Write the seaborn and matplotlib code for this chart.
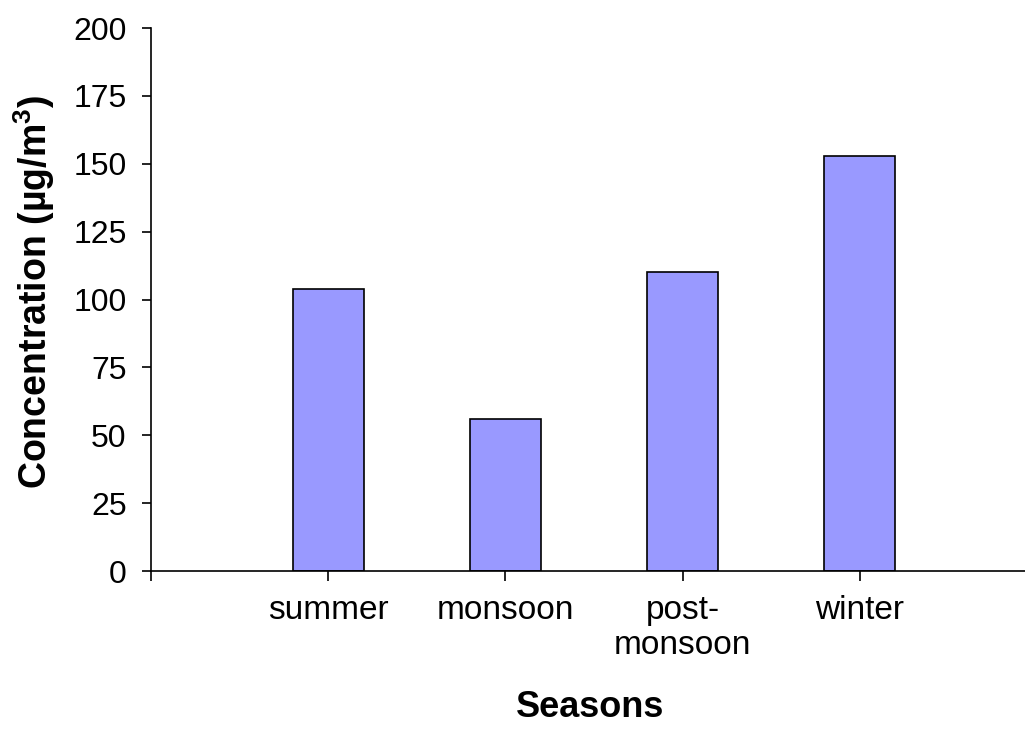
# Seasonal concentration bar chart
import pandas as pd
import matplotlib
matplotlib.use('Agg')
import matplotlib.pyplot as plt
import seaborn as sns

# Data
seasons = ['summer', 'monsoon', 'post-\nmonsoon', 'winter']
concentration = [104, 56, 110, 153]
y_ticks = [0, 25, 50, 75, 100, 125, 150, 175, 200]

data = pd.DataFrame({'Season': seasons, 'Concentration': concentration})
# blank first slot, like the original spreadsheet chart
order = [''] + seasons

sns.set_style('ticks')
plt.rcParams['font.family'] = ['Liberation Sans', 'DejaVu Sans']
plt.rcParams['text.color'] = 'black'
plt.rcParams['axes.labelcolor'] = 'black'
plt.rcParams['mathtext.fontset'] = 'custom'
plt.rcParams['mathtext.rm'] = 'Liberation Sans'
plt.rcParams['mathtext.bf'] = 'Liberation Sans:bold'

fig = plt.figure(figsize=(10.25, 7.3), dpi=100)
ax = fig.add_axes([151 / 1025, 0.2178, 879 / 1025, 0.7438])

sns.barplot(data=data, x='Season', y='Concentration', order=order,
            color='#9999FF', saturation=1, edgecolor='black',
            linewidth=1.2, width=0.4, ax=ax)

ax.set_xlim(0, 4.96)
ax.set_ylim(0, 200)
ax.set_yticks(y_ticks)

sns.despine(ax=ax)
for side in ['left', 'bottom']:
    ax.spines[side].set_linewidth(1.2)
    ax.spines[side].set_color('black')

ax.tick_params(axis='x', length=7.5, width=1.2, pad=10, labelsize=24,
               colors='black')
ax.tick_params(axis='y', length=6.5, width=1.2, pad=11, labelsize=23,
               colors='black')
for lab in ax.get_xticklabels():
    lab.set_linespacing(1.15)

ax.set_xlabel('Seasons', fontsize=26, fontweight='bold')
ax.set_ylabel(r'Concentration (µg/m$^{\mathbf{3}}$)', fontsize=27,
              fontweight='bold')
ax.xaxis.label.set_va('center')
ax.xaxis.set_label_coords(0.5, -0.252)
ax.yaxis.label.set_va('center')
ax.yaxis.set_label_coords(-0.133, 0.514)

fig.savefig('out.png', dpi=100)
